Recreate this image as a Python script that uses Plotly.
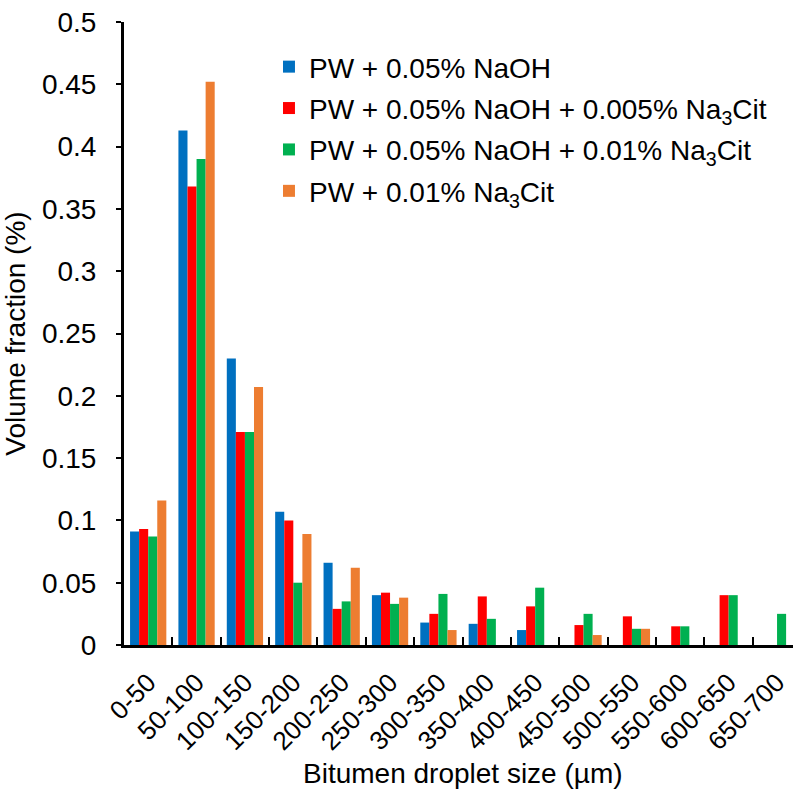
import plotly.graph_objects as go

categories = ["0-50", "50-100", "100-150", "150-200", "200-250", "250-300", "300-350",
              "350-400", "400-450", "450-500", "500-550", "550-600", "600-650", "650-700"]

naoh = [0.091, 0.413, 0.230, 0.107, 0.066, 0.040, 0.018, 0.017, 0.012, 0, 0, 0, 0, 0]
naoh_cit005 = [0.093, 0.368, 0.171, 0.100, 0.029, 0.042, 0.025, 0.039, 0.031, 0.016, 0.023, 0.015, 0.040, 0]
naoh_cit01 = [0.087, 0.390, 0.171, 0.050, 0.035, 0.033, 0.041, 0.021, 0.046, 0.025, 0.013, 0.015, 0.040, 0.025]
cit01 = [0.116, 0.452, 0.207, 0.089, 0.062, 0.038, 0.012, 0, 0, 0.008, 0.013, 0, 0, 0]

series_names = [
    "PW + 0.05% NaOH",
    "PW + 0.05% NaOH + 0.005% Na<sub>3</sub>Cit",
    "PW + 0.05% NaOH + 0.01% Na<sub>3</sub>Cit",
    "PW + 0.01% Na<sub>3</sub>Cit",
]
series_values = [naoh, naoh_cit005, naoh_cit01, cit01]
colors = ["#0070C0", "#FF0000", "#00B050", "#ED7D31"]

y_ticks = [0, 0.05, 0.1, 0.15, 0.2, 0.25, 0.3, 0.35, 0.4, 0.45, 0.5]
y_ticktext = ["0", "0.05", "0.1", "0.15", "0.2", "0.25", "0.3", "0.35", "0.4", "0.45", "0.5"]

x_title = "Bitumen droplet size (µm)"
y_title = "Volume fraction (%)"

FONT = "Liberation Sans, Arial, sans-serif"
FS = 28

fig = go.Figure()
for i, (name, vals, col) in enumerate(zip(series_names, series_values, colors)):
    fig.add_trace(go.Bar(x=categories, y=vals, name=name, legendgroup=f"g{i}",
                         marker=dict(color=col, line=dict(width=0))))

fig.update_layout(
    width=793, height=798,
    margin=dict(l=124, r=0, t=22, b=153),
    paper_bgcolor="white", plot_bgcolor="white",
    barmode="group", bargap=0.25, bargroupgap=0,
    font=dict(family=FONT, size=FS, color="black"),
    showlegend=True,
    legend=dict(x=0.2167, y=0.968, xanchor="left", yanchor="top",
                font=dict(family=FONT, size=FS, color="black"),
                bgcolor="rgba(0,0,0,0)", tracegroupgap=2, itemwidth=30,
                traceorder="grouped"),
    annotations=[dict(text=x_title, xref="paper", yref="paper", x=0.507, y=-0.2055,
                      xanchor="center", yanchor="middle", showarrow=False,
                      font=dict(family=FONT, size=FS, color="black"))],
)
fig.update_xaxes(
    range=[-0.5, 13.33], automargin=False,
    showline=True, linecolor="black", linewidth=3,
    ticks="inside", tickson="boundaries", ticklen=8, tickwidth=2, tickcolor="black",
    tickangle=-45, tickfont=dict(family=FONT, size=26, color="black"),
    ticklabelstandoff=9,
    showgrid=False, zeroline=False,
)
fig.update_yaxes(
    range=[0, 0.5], automargin=False,
    showline=True, linecolor="black", linewidth=3,
    ticks="outside", ticklen=5, tickwidth=2, tickcolor="black",
    tickvals=y_ticks, ticktext=y_ticktext,
    tickfont=dict(family=FONT, size=FS, color="black"),
    ticklabelstandoff=14,
    title=dict(text=y_title, font=dict(family=FONT, size=FS, color="black")),
    showgrid=False, zeroline=False,
)

fig.write_html("out.html")
